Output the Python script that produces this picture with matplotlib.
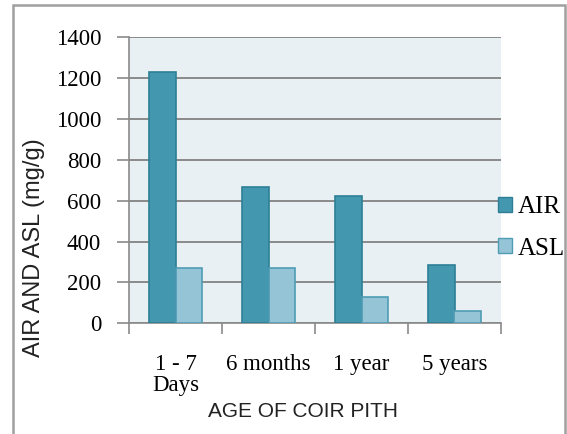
import matplotlib
matplotlib.use('Agg')
import matplotlib.pyplot as plt
import numpy as np
from matplotlib.patches import Rectangle, Patch

# data
ages = ['1 - 7\nDays', '6 months', '1 year', '5 years']
air = [1230, 665, 625, 285]
asl = [270, 270, 130, 60]

W, H = 567, 434
fig = plt.figure(figsize=(W / 100, H / 100), dpi=100)
ax = fig.add_axes([129 / W, 1 - 323.3 / H, (501 - 129) / W, (323.3 - 37.3) / H])

grey = '#8a8a8a'
ax.set_facecolor('#e8f0f4')
x = np.arange(len(ages))
w = 0.29
ax.bar(x - w / 2, air, w, color='#4398b0', edgecolor='#2e7f96', linewidth=1.2, label='AIR', zorder=3)
ax.bar(x + w / 2, asl, w, color='#94c4d6', edgecolor='#4f9cb4', linewidth=1.2, label='ASL', zorder=3)

ax.set_xlim(-0.5, len(ages) - 0.5)
ax.set_ylim(0, 1400)
ax.set_yticks(range(0, 1401, 200))
ax.yaxis.grid(True, color=grey, linewidth=1.4, zorder=1)
ax.set_axisbelow(True)

for s in ['top', 'right']:
    ax.spines[s].set_visible(False)
for s in ['left', 'bottom']:
    ax.spines[s].set_color(grey)
    ax.spines[s].set_linewidth(1.2)

serif = 'Liberation Serif'
ax.set_xticks(x)
ax.set_xticklabels(ages, family=serif, fontsize=16.5, linespacing=1.0)
ax.set_xticks(np.arange(-0.5, len(ages), 1), minor=True)
ax.tick_params(axis='x', which='major', length=0, pad=22)
ax.tick_params(axis='x', which='minor', length=8, width=1.2, color=grey, direction='out')
ax.tick_params(axis='y', length=9, width=1.2, color=grey, pad=11, labelsize=16.5)
for t in ax.get_yticklabels():
    t.set_family(serif)

ax.set_xlabel('AGE OF COIR PITH', family='Liberation Sans', fontsize=15, color='#222222')
ax.xaxis.set_label_coords((303.5 - 129) / (501 - 129), -(402 - 323.3) / (323.3 - 37.3))
ax.set_ylabel('AIR AND ASL (mg/g)', family='Liberation Sans', fontsize=17, color='#222222')
ax.yaxis.set_label_coords(-(129 - 45) / (501 - 129), (323.3 - 248) / (323.3 - 37.3))

handles = [Patch(facecolor='#4398b0', edgecolor='#2e7f96', label='AIR'),
           Patch(facecolor='#94c4d6', edgecolor='#4f9cb4', label='ASL')]
fig.legend(handles=handles, loc='center left', bbox_to_anchor=(498 / W, 1 - 228 / H),
           frameon=False, prop={'family': serif, 'size': 18},
           handlelength=0.55, handleheight=0.55, handletextpad=0.22,
           labelspacing=0.78, borderpad=0, borderaxespad=0)

# outer frame of the chart picture
fig.patches.append(Rectangle((13 / W, -0.1), (565 - 13) / W, 1.1 - 5 / H,
                             transform=fig.transFigure, fill=False,
                             edgecolor='#a0a0a0', linewidth=1.8))

fig.savefig('out.png', dpi=100)
